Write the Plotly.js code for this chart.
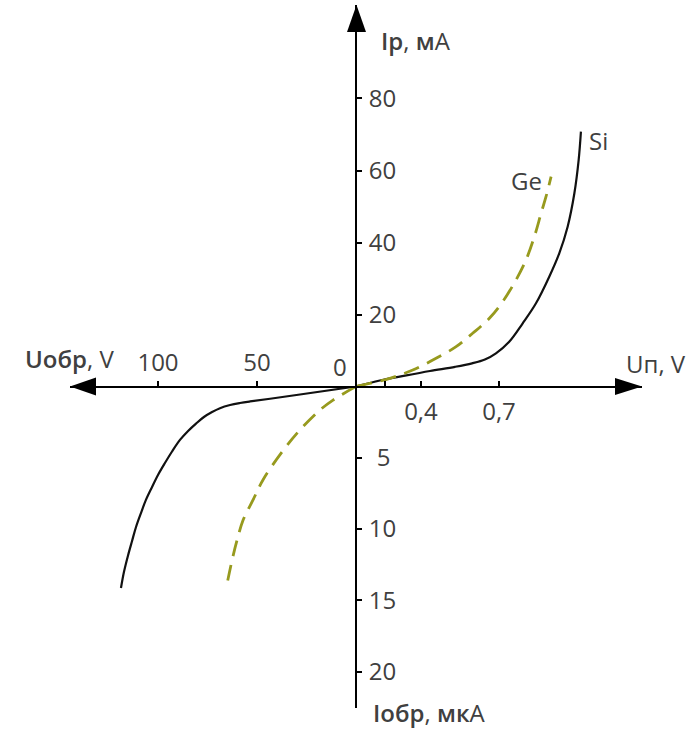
<!DOCTYPE html>
<html>
<head>
<meta charset="utf-8">
<script src="https://cdn.plot.ly/plotly-3.0.1.min.js"></script>
<style>html,body{margin:0;padding:0;background:#fff;}#chart{width:696px;height:731px;}</style>
</head>
<body>
<div id="chart"></div>
<script>
// ---- data ----
// forward branch: voltage (V), current (mA)
const siFwdV = [0, 0.117, 0.240, 0.362, 0.485, 0.568, 0.631, 0.685, 0.750, 0.816, 0.881, 0.946, 0.995, 1.036, 1.069, 1.090, 1.101];
const siFwdI = [0, 1.67, 3.03, 4.31, 5.47, 6.44, 7.5, 9.22, 12.44, 17.56, 23.11, 30.5, 37.0, 44.39, 53.67, 62.92, 70.78];
const geFwdV = [0, 0.166, 0.278, 0.392, 0.490, 0.571, 0.653, 0.718, 0.783, 0.832, 0.873, 0.906, 0.930, 0.955];
const geFwdI = [0, 2.28, 4.58, 7.83, 11.06, 14.78, 18.94, 23.56, 29.58, 35.14, 41.61, 48.11, 52.72, 58.28];
// reverse branch: voltage (V), current (µA)
const siRevV = [0, 28.3, 43.4, 53.5, 58.6, 63.6, 68.7, 72.7, 76.8, 80.8, 84.8, 88.9, 92.9, 96.5, 100.0, 103.0, 106.1, 108.6, 111.1, 113.1, 115.2, 117.2, 118.7];
const siRevI = [0, 0.56, 0.86, 1.05, 1.16, 1.30, 1.52, 1.79, 2.14, 2.60, 3.12, 3.75, 4.56, 5.37, 6.21, 7.05, 7.96, 8.88, 9.86, 10.84, 11.89, 13.02, 14.14];
const geRevV = [0, 11.6, 18.2, 28.3, 37.4, 47.0, 52.0, 57.1, 60.1, 62.6, 65.2];
const geRevI = [0, 0.95, 1.65, 3.05, 4.6, 6.56, 7.96, 9.4, 10.8, 12.2, 13.9];

// tick labels
const fwdVTickVals = [0.142, 0.318, 0.7];
const fwdVTickText = ['', '0,4', '0,7'];
const revVTickVals = [50, 100];
const revVTickText = ['50', '100'];
const fwdITickVals = [20, 40, 60, 80];
const fwdITickText = ['20', '40', '60', '80'];
const revITickVals = [5, 10, 15, 20];
const revITickText = ['\u2009\u20095', '10', '15', '20'];

const seriesNames = ['Si', 'Ge'];
const sb = s => '<span style="font-weight:600">' + s + '</span>';
const axisTitles = {
  fwdV: 'Uп, V',
  revV: sb('Uобр') + ', V',
  fwdI: sb('Iр') + ', ' + sb('м') + 'А',
  revI: sb('Iобр') + ', ' + sb('мк') + 'А'
};

// ---- layout helpers (pixel -> paper) ----
const W = 696, H = 731;
const fx = p => p / W;
const fy = p => 1 - p / H;
const OX = 356, OY = 386.5;

const txtColor = '#404040';
const font = {family: '"Open Sans", "Noto Sans", sans-serif', size: 24, color: txtColor};
const geColor = '#979a1e';

const siLine = {color: '#111', width: 2.2, shape: 'spline', smoothing: 1};
const geLine = {color: geColor, width: 2.8, dash: '16px,9px', shape: 'spline', smoothing: 1};

const traces = [
  {x: siFwdV, y: siFwdI, xaxis: 'x', yaxis: 'y', mode: 'lines', name: seriesNames[0], line: siLine},
  {x: siRevV, y: siRevI, xaxis: 'x2', yaxis: 'y2', mode: 'lines', name: seriesNames[0], line: siLine},
  {x: geFwdV, y: geFwdI, xaxis: 'x', yaxis: 'y', mode: 'lines', name: seriesNames[1], line: geLine},
  {x: geRevV, y: geRevI, xaxis: 'x2', yaxis: 'y2', mode: 'lines', name: seriesNames[1], line: geLine}
];

const axCommon = {showgrid: false, zeroline: false, showline: true, linecolor: '#000', linewidth: 2,
  tickcolor: '#000', tickwidth: 2, ticklen: 5, tickfont: font, tickmode: 'array', fixedrange: true};

const layout = {
  width: W, height: H,
  margin: {l: 0, r: 0, t: 0, b: 0, pad: 0},
  paper_bgcolor: '#fff', plot_bgcolor: 'rgba(0,0,0,0)',
  showlegend: false, hovermode: false,
  xaxis: Object.assign({}, axCommon, {
    domain: [fx(OX), fx(642)], range: [0, 1.4], anchor: 'free', position: fy(OY), side: 'bottom',
    ticks: 'inside', tickvals: fwdVTickVals, ticktext: fwdVTickText, ticklabelstandoff: 4
  }),
  xaxis2: Object.assign({}, axCommon, {
    domain: [fx(70), fx(OX)], range: [144.44, 0], anchor: 'free', position: fy(OY), side: 'top',
    ticks: 'outside', tickvals: revVTickVals, ticktext: revVTickText, ticklabelstandoff: 0
  }),
  yaxis: Object.assign({}, axCommon, {
    domain: [fy(OY), fy(5)], range: [0, 105.97], anchor: 'free', position: fx(OX), side: 'right',
    ticks: 'outside', tickvals: fwdITickVals, ticktext: fwdITickText, ticklabelstandoff: 2
  }),
  yaxis2: Object.assign({}, axCommon, {
    domain: [fy(708), fy(OY)], range: [22.56, 0], anchor: 'free', position: fx(OX), side: 'right',
    ticks: 'outside', tickvals: revITickVals, ticktext: revITickText, ticklabelstandoff: 2
  }),
  shapes: [
    {type: 'path', xref: 'paper', yref: 'paper', fillcolor: '#000', line: {width: 0},
     path: `M ${fx(642)} ${fy(OY)} L ${fx(615)} ${fy(OY - 8.5)} L ${fx(615)} ${fy(OY + 8.5)} Z`},
    {type: 'path', xref: 'paper', yref: 'paper', fillcolor: '#000', line: {width: 0},
     path: `M ${fx(70)} ${fy(OY)} L ${fx(96)} ${fy(OY - 9)} L ${fx(96)} ${fy(OY + 9)} Z`},
    {type: 'path', xref: 'paper', yref: 'paper', fillcolor: '#000', line: {width: 0},
     path: `M ${fx(OX + 0.5)} ${fy(5)} L ${fx(OX - 9)} ${fy(32)} L ${fx(OX + 10)} ${fy(32)} Z`}
  ],
  annotations: [
    {xref: 'paper', yref: 'paper', x: fx(23), y: fy(358), xanchor: 'left', yanchor: 'middle',
     text: axisTitles.revV, showarrow: false, font: font},
    {xref: 'paper', yref: 'paper', x: fx(624), y: fy(363), xanchor: 'left', yanchor: 'middle',
     text: axisTitles.fwdV, showarrow: false, font: font},
    {xref: 'paper', yref: 'paper', x: fx(379), y: fy(40), xanchor: 'left', yanchor: 'middle',
     text: axisTitles.fwdI, showarrow: false, font: font},
    {xref: 'paper', yref: 'paper', x: fx(371), y: fy(712), xanchor: 'left', yanchor: 'middle',
     text: axisTitles.revI, showarrow: false, font: font},
    {xref: 'paper', yref: 'paper', x: fx(340), y: fy(366), xanchor: 'center', yanchor: 'middle',
     text: '0', showarrow: false, font: font},
    {xref: 'x', yref: 'y', x: siFwdV[siFwdV.length - 1], y: siFwdI[siFwdI.length - 1],
     xanchor: 'left', yanchor: 'middle', xshift: 6, yshift: -9,
     text: seriesNames[0], showarrow: false, font: font},
    {xref: 'x', yref: 'y', x: geFwdV[geFwdV.length - 1], y: geFwdI[geFwdI.length - 1],
     xanchor: 'right', yanchor: 'middle', xshift: -7, yshift: -4,
     text: seriesNames[1], showarrow: false, font: font}
  ]
};

Plotly.newPlot('chart', traces, layout, {displayModeBar: false, staticPlot: true});
</script>
</body>
</html>
